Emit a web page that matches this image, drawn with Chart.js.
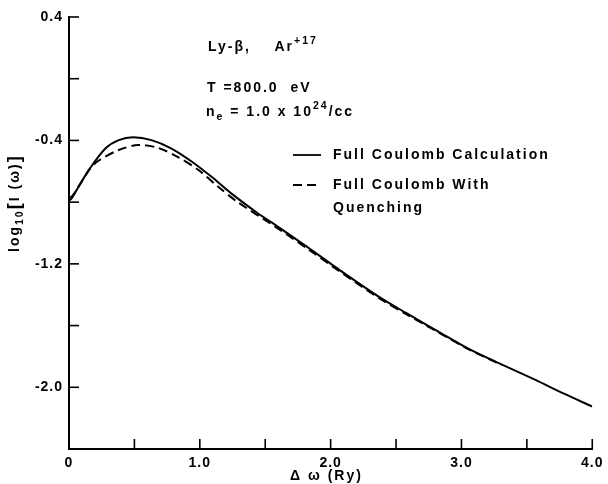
<!DOCTYPE html>
<html lang="en">
<head>
    <meta charset="UTF-8">
    <title>Ly-beta Ar+17 line profile</title>
    <script src="https://cdn.jsdelivr.net/npm/chart.js"></script>
    <style>
        body {
            margin: 0;
            background: #ffffff;
        }
        .chart-box {
            width: 608px;
            height: 484px;
        }
    </style>
</head>
<body>
    <div class="chart-box">
        <canvas id="profile"></canvas>
    </div>

    <script>
        // Curva completa (Full Coulomb Calculation)
        const solidX = [0, 0.02, 0.08, 0.16, 0.28, 0.38, 0.49, 0.63, 0.78, 0.94, 1.09, 1.24, 1.44, 1.56, 1.82, 2.07, 2.37, 2.58, 2.82, 3.06, 3.31, 3.57, 3.78, 4.0];
        const solidY = [-0.79, -0.776, -0.69, -0.581, -0.451, -0.398, -0.380, -0.398, -0.451, -0.538, -0.636, -0.743, -0.87, -0.938, -1.09, -1.241, -1.414, -1.52, -1.637, -1.753, -1.853, -1.954, -2.04, -2.125];

        // Curva con quenching
        const dashX = [0, 0.02, 0.08, 0.16, 0.22, 0.38, 0.53, 0.68, 0.83, 0.99, 1.14, 1.29, 1.56, 1.82, 2.07, 2.37, 2.58, 2.82, 3.06, 3.31];
        const dashY = [-0.77, -0.765, -0.69, -0.585, -0.535, -0.462, -0.430, -0.448, -0.506, -0.592, -0.70, -0.80, -0.95, -1.10, -1.25, -1.422, -1.527, -1.642, -1.756, -1.855];

        const seriesNames = ['Full Coulomb Calculation', 'Full Coulomb With\nQuenching'];
        const yTickLabels = [0.4, -0.4, -1.2, -2.0];
        const xTickLabels = [0, 1.0, 2.0, 3.0, 4.0];

        const FONT = "'Liberation Sans', Arial, sans-serif";

        function toPoints(xs, ys) {
            return xs.map((x, i) => ({ x: x, y: ys[i] }));
        }

        // Texto con superindices / subindices
        function richText(ctx, x, y, parts, size) {
            let cx = x;
            parts.forEach(([txt, mode]) => {
                let s = size, dy = 0;
                if (mode === 'sup') { s = size * 0.75; dy = -size * 0.45; }
                if (mode === 'sub') { s = size * 0.75; dy = size * 0.35; }
                if (mode === 'big') { s = size * 1.3; }
                ctx.font = 'bold ' + s + 'px ' + FONT;
                ctx.fillText(txt, cx, y + dy);
                cx += ctx.measureText(txt).width;
            });
        }

        // Marcas de ejes hacia dentro, leyenda y anotaciones
        const decorPlugin = {
            id: 'decor',
            beforeDraw(chart) {
                chart.ctx.letterSpacing = '1px';
            },
            afterDraw(chart) {
                const ctx = chart.ctx;
                const xs = chart.scales.x, ys = chart.scales.y;
                const area = chart.chartArea;
                ctx.save();
                ctx.strokeStyle = '#000';
                ctx.lineWidth = 1.6;
                ys.ticks.forEach(t => {
                    const py = ys.getPixelForValue(t.value);
                    ctx.beginPath();
                    ctx.moveTo(area.left, py);
                    ctx.lineTo(area.left + 10, py);
                    ctx.stroke();
                });
                xs.ticks.forEach(t => {
                    const px = xs.getPixelForValue(t.value);
                    ctx.beginPath();
                    ctx.moveTo(px, area.bottom);
                    ctx.lineTo(px, area.bottom - 10);
                    ctx.stroke();
                });

                ctx.fillStyle = '#000';
                ctx.textBaseline = 'middle';
                ctx.textAlign = 'left';
                ctx.letterSpacing = '2px';

                // anotaciones
                richText(ctx, 208, 47, [['Ly-', 'n'], ['β', 'n'], [',    Ar', 'n'], ['+17', 'sup']], 14);
                richText(ctx, 207, 88, [['T =800.0  eV', 'n']], 14);
                richText(ctx, 206, 112, [['n', 'n'], ['e', 'sub'], [' = 1.0 x 10', 'n'], ['24', 'sup'], ['/cc', 'n']], 14);

                // leyenda
                const lx = 293, lw = 28, tx = 333;
                const rows = [155, 185];
                chart.data.datasets.forEach((ds, i) => {
                    ctx.lineWidth = 1.8;
                    ctx.setLineDash(ds.borderDash || []);
                    ctx.beginPath();
                    ctx.moveTo(lx, rows[i]);
                    ctx.lineTo(lx + lw, rows[i]);
                    ctx.stroke();
                    ctx.setLineDash([]);
                    ds.label.split('\n').forEach((line, k) => {
                        richText(ctx, tx, rows[i] + k * 23, [[line, 'n']], 14);
                    });
                });

                // titulos de ejes
                richText(ctx, 290, 476, [['Δ ω (Ry)', 'n']], 14);

                ctx.save();
                ctx.translate(15, 252);
                ctx.rotate(-Math.PI / 2);
                richText(ctx, 0, 0, [['log', 'n'], ['10', 'sub'], ['[', 'big'], ['I (ω)', 'n'], [']', 'big']], 14);
                ctx.restore();

                ctx.restore();
            }
        };

        const ctx = document.getElementById('profile').getContext('2d');
        new Chart(ctx, {
            type: 'scatter',
            data: {
                datasets: [{
                    label: seriesNames[0],
                    data: toPoints(solidX, solidY),
                    showLine: true,
                    borderColor: '#000',
                    borderWidth: 2,
                    pointRadius: 0,
                    tension: 0.3
                }, {
                    label: seriesNames[1],
                    data: toPoints(dashX, dashY),
                    showLine: true,
                    borderColor: '#000',
                    borderWidth: 2,
                    borderDash: [9, 5],
                    pointRadius: 0,
                    tension: 0.3
                }]
            },
            options: {
                responsive: true,
                maintainAspectRatio: false,
                animation: false,
                layout: {
                    padding: { left: 0, right: 15, top: 17, bottom: 0 }
                },
                plugins: {
                    legend: { display: false },
                    tooltip: { enabled: false }
                },
                scales: {
                    x: {
                        type: 'linear',
                        min: 0,
                        max: 4,
                        afterFit(scale) { scale.height = 35; },
                        grid: { display: true, drawOnChartArea: false, drawTicks: false },
                        border: { display: true, color: '#000', width: 2 },
                        ticks: {
                            stepSize: 0.5,
                            padding: 6,
                            color: '#000',
                            maxRotation: 0,
                            autoSkip: false,
                            font: { family: FONT, size: 14, weight: 'bold' },
                            callback(v) {
                                const r = Math.round(v * 10) / 10;
                                if (!xTickLabels.includes(r)) return '';
                                return r === 0 ? '0' : r.toFixed(1);
                            }
                        }
                    },
                    y: {
                        type: 'linear',
                        min: -2.4,
                        max: 0.4,
                        afterFit(scale) { scale.width = 69; },
                        grid: { display: true, drawOnChartArea: false, drawTicks: false },
                        border: { display: true, color: '#000', width: 2 },
                        ticks: {
                            stepSize: 0.4,
                            padding: 6,
                            color: '#000',
                            autoSkip: false,
                            font: { family: FONT, size: 14, weight: 'bold' },
                            callback(v) {
                                const r = Math.round(v * 10) / 10;
                                if (!yTickLabels.includes(r)) return '';
                                return r.toFixed(1);
                            }
                        }
                    }
                }
            },
            plugins: [decorPlugin]
        });
    </script>
</body>
</html>
